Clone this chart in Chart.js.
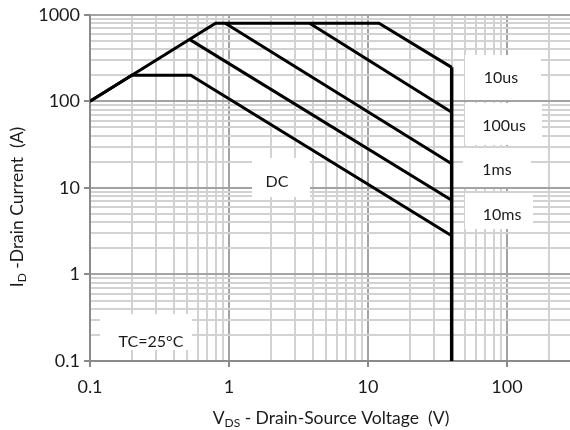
<!DOCTYPE html>
<html>
<head>
<meta charset="utf-8">
<script src="https://cdn.jsdelivr.net/npm/chart.js@4.4.1/dist/chart.umd.min.js"></script>
<style>
  html, body { margin: 0; padding: 0; background: #fff; }
  #wrap { width: 570px; height: 430px; }
</style>
</head>
<body>
<div id="wrap"><canvas id="soa"></canvas></div>
<script>
// SOA curves (VDS in V, ID in A)
const curveNames = ['10us', '100us', '1ms', '10ms', 'DC'];
const vds10us  = [0.1, 0.8, 12, 40];
const id10us   = [100, 800, 800, 247];
const vds100us = [3.8, 40];
const id100us  = [800, 75];
const vds1ms   = [0.94, 40];
const id1ms    = [800, 19];
const vds10ms  = [0.52, 40];
const id10ms   = [520, 7.2];
const vdsDC    = [0.1, 0.2, 0.53, 40];
const idDC     = [100, 200, 200, 2.8];
// drain-source breakdown limit
const vdsLimit = [40, 40];
const idLimit  = [247, 0.1];

// axis labels (decades) - minor grid at 2..9 of each decade
const xTickLabels = [0.1, 1, 10, 100];
const yTickLabels = [0.1, 1, 10, 100, 1000];
const xMax = 284;
const noteTexts = ['10us', '100us', '1ms', '10ms', 'DC', 'TC=25°C'];

const FONT = 'Lato, "Open Sans", sans-serif';
const TEXT = '#1b1b1b';

function gridValues(decades, max) {
  let out = [];
  decades.forEach(d => {
    for (let k = 1; k <= 9; k++) {
      const v = +(d * k).toPrecision(6);
      if (v <= max) out.push(v);
    }
  });
  return out;
}
const xGrid = gridValues(xTickLabels, xMax);
const yGrid = gridValues(yTickLabels.slice(0, -1), 1000).concat([1000]);

function isDecade(v) {
  if (!v) return false;
  const l = Math.log10(v);
  return Math.abs(l - Math.round(l)) < 1e-6;
}

function pts(xs, ys) {
  return xs.map((x, i) => ({ x: x, y: ys[i] }));
}

const curves = [
  pts(vds10us, id10us),
  pts(vds100us, id100us),
  pts(vds1ms, id1ms),
  pts(vds10ms, id10ms),
  pts(vdsDC, idDC)
];

const datasets = curves.map((c, i) => ({
  label: curveNames[i],
  data: c,
  borderColor: '#000',
  borderWidth: 3,
  pointRadius: 0,
  fill: false
}));
datasets.push({
  label: 'limit',
  data: pts(vdsLimit, idLimit),
  borderColor: '#000',
  borderWidth: 3.5,
  pointRadius: 0,
  fill: false
});

// white label boxes (pixel layout)
const noteBoxes = [
  { x: 465, y: 55,  w: 76, h: 45, tx: 501, ty: 78 },
  { x: 465, y: 103, w: 77, h: 42, tx: 504, ty: 126 },
  { x: 463, y: 148, w: 68, h: 39, tx: 497, ty: 170 },
  { x: 465, y: 193, w: 68, h: 36, tx: 502, ty: 215 },
  { x: 252, y: 158, w: 58, h: 39, tx: 277, ty: 182 },
  { x: 100, y: 314, w: 92, h: 36, tx: 151, ty: 342 }
];

const notes = {
  id: 'notes',
  beforeDatasetsDraw(chart) {
    const ctx = chart.ctx;
    ctx.save();
    noteBoxes.forEach((b, i) => {
      ctx.fillStyle = '#fff';
      ctx.fillRect(b.x, b.y, b.w, b.h);
      ctx.fillStyle = TEXT;
      ctx.font = '16px ' + FONT;
      ctx.textAlign = 'center';
      ctx.textBaseline = 'middle';
      ctx.fillText(noteTexts[i], b.tx, b.ty);
    });
    ctx.restore();
  }
};

// axis titles with subscripts
function subText(ctx, parts, cx, cy) {
  let total = 0;
  parts.forEach(p => {
    ctx.font = (p.sub ? '12px ' : '17.5px ') + FONT;
    p.w = ctx.measureText(p.t).width;
    total += p.w;
  });
  let x = cx - total / 2;
  parts.forEach(p => {
    ctx.font = (p.sub ? '12px ' : '17.5px ') + FONT;
    ctx.fillText(p.t, x, cy + (p.sub ? 5 : 0));
    x += p.w;
  });
}

const titles = {
  id: 'titles',
  afterDraw(chart) {
    const ctx = chart.ctx;
    ctx.save();
    ctx.fillStyle = TEXT;
    ctx.textAlign = 'left';
    ctx.textBaseline = 'middle';
    subText(ctx, [{ t: 'V' }, { t: 'DS', sub: true }, { t: ' - Drain-Source Voltage  (V)' }], 331, 418);
    ctx.translate(17, 207);
    ctx.rotate(-Math.PI / 2);
    subText(ctx, [{ t: 'I' }, { t: 'D', sub: true }, { t: ' -Drain Current  (A)' }], 0, 0);
    ctx.restore();
  }
};

function gridOpts() {
  return {
    color: c => isDecade(c.tick && c.tick.value) ? '#a3a3a3' : '#d2d2d2',
    lineWidth: 2,
    tickLength: 6,
    tickColor: c => isDecade(c.tick && c.tick.value) ? '#8a8a8a' : 'rgba(0,0,0,0)'
  };
}

new Chart(document.getElementById('soa'), {
  type: 'line',
  data: { datasets: datasets },
  options: {
    responsive: true,
    maintainAspectRatio: false,
    animation: false,
    layout: { padding: { left: 0, right: 0, top: 14, bottom: 0 } },
    plugins: {
      legend: { display: false },
      tooltip: { enabled: false }
    },
    scales: {
      x: {
        type: 'logarithmic',
        min: 0.1,
        max: xMax,
        afterBuildTicks(scale) { scale.ticks = xGrid.map(v => ({ value: v })); },
        afterFit(scale) { scale.height = 69; },
        ticks: {
          autoSkip: false,
          maxRotation: 0,
          padding: 9,
          color: TEXT,
          font: { family: FONT, size: 18 },
          callback: v => xTickLabels.find(t => Math.abs(t - v) < 1e-9) !== undefined ? String(v) : ''
        },
        grid: gridOpts(),
        border: { color: '#8a8a8a', width: 2 }
      },
      y: {
        type: 'logarithmic',
        min: 0.1,
        max: 1000,
        afterBuildTicks(scale) { scale.ticks = yGrid.map(v => ({ value: v })); },
        afterFit(scale) { scale.width = 90; },
        ticks: {
          autoSkip: false,
          padding: 4,
          color: TEXT,
          font: { family: FONT, size: 18 },
          callback: v => yTickLabels.find(t => Math.abs(t - v) < 1e-9) !== undefined ? String(v) : ''
        },
        grid: gridOpts(),
        border: { color: '#8a8a8a', width: 2 }
      }
    }
  },
  plugins: [notes, titles]
});
</script>
</body>
</html>
